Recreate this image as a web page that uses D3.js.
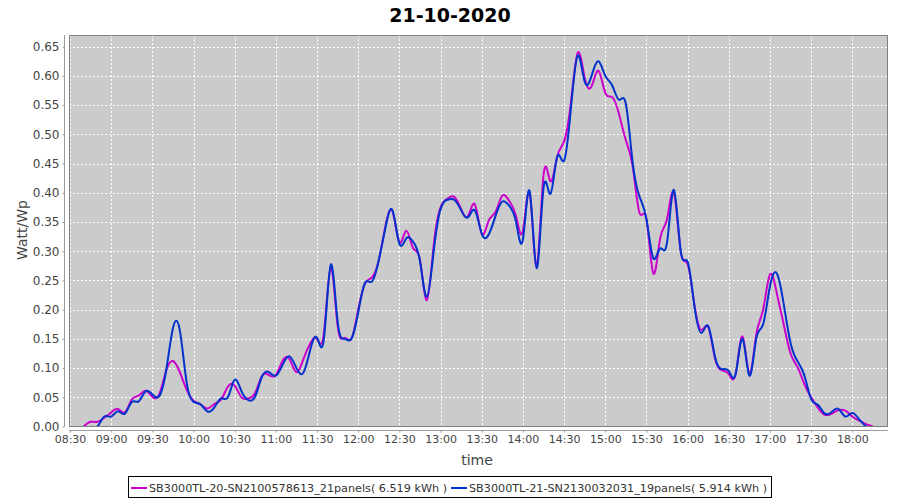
<!DOCTYPE html>
<html>
<head>
<meta charset="utf-8">
<script src="https://cdn.jsdelivr.net/npm/d3@7"></script>
<style>
  body { margin: 0; background: #fff; }
  svg text { font-family: "DejaVu Sans", sans-serif; }
</style>
</head>
<body>
<div id="viz"></div>
<script>
var title = "21-10-2020";

var times = [
  "08:40","08:45","08:50","08:55",
  "09:00","09:05","09:10","09:15","09:20","09:25","09:30","09:35","09:40","09:45","09:50","09:55",
  "10:00","10:05","10:10","10:15","10:20","10:25","10:30","10:35","10:40","10:45","10:50","10:55",
  "11:00","11:05","11:10","11:15","11:20","11:25","11:30","11:35","11:40","11:45","11:50","11:55",
  "12:00","12:05","12:10","12:15","12:20","12:25","12:30","12:35","12:40","12:45","12:50","12:55",
  "13:00","13:05","13:10","13:15","13:20","13:25","13:30","13:35","13:40","13:45","13:50","13:55",
  "14:00","14:05","14:10","14:15","14:20","14:25","14:30","14:35","14:40","14:45","14:50","14:55",
  "15:00","15:05","15:10","15:15","15:20","15:25","15:30","15:35","15:40","15:45","15:50","15:55",
  "16:00","16:05","16:10","16:15","16:20","16:25","16:30","16:35","16:40","16:45","16:50","16:55",
  "17:00","17:05","17:10","17:15","17:20","17:25","17:30","17:35","17:40","17:45","17:50","17:55",
  "18:00","18:05","18:10","18:15"
];

// SB3000TL-20 (magenta)
var sb20 = [
  0.000, 0.008, 0.008, 0.015,
  0.024, 0.030, 0.024, 0.046, 0.053, 0.061, 0.051, 0.055, 0.095, 0.112, 0.093, 0.063,
  0.044, 0.038, 0.031, 0.038, 0.046, 0.068, 0.070, 0.050, 0.048, 0.058, 0.087, 0.088,
  0.088, 0.113, 0.115, 0.093, 0.115, 0.142, 0.150, 0.160, 0.272, 0.172, 0.152, 0.150,
  0.200, 0.245, 0.255, 0.285, 0.345, 0.368, 0.315, 0.335, 0.305, 0.285, 0.216, 0.310,
  0.375, 0.390, 0.393, 0.372, 0.360, 0.380, 0.330, 0.352, 0.367, 0.395, 0.386, 0.360,
  0.335, 0.398, 0.274, 0.430, 0.420, 0.462, 0.488, 0.555, 0.640, 0.597, 0.582, 0.609,
  0.571, 0.564, 0.535, 0.490, 0.445, 0.365, 0.355, 0.262, 0.322, 0.355, 0.400, 0.299,
  0.278, 0.208, 0.165, 0.170, 0.116, 0.096, 0.090, 0.090, 0.154, 0.090, 0.157, 0.200,
  0.260, 0.228, 0.175, 0.125, 0.102, 0.073, 0.050, 0.032, 0.020, 0.022, 0.028, 0.027,
  0.017, 0.010, 0.004, 0.000
];

// SB3000TL-21 (blue)
var sb21 = [
  null, 0.000, 0.000, 0.017,
  0.017, 0.026, 0.022, 0.042, 0.043, 0.060, 0.055, 0.052, 0.095, 0.168, 0.165, 0.075,
  0.042, 0.038, 0.026, 0.032, 0.048, 0.050, 0.080, 0.060, 0.045, 0.052, 0.086, 0.093,
  0.087, 0.106, 0.120, 0.100, 0.092, 0.131, 0.152, 0.150, 0.277, 0.180, 0.150, 0.150,
  0.195, 0.246, 0.248, 0.285, 0.342, 0.370, 0.313, 0.322, 0.316, 0.283, 0.222, 0.300,
  0.372, 0.388, 0.388, 0.370, 0.358, 0.370, 0.330, 0.328, 0.360, 0.385, 0.378, 0.350,
  0.320, 0.402, 0.271, 0.408, 0.398, 0.462, 0.455, 0.545, 0.635, 0.590, 0.600, 0.625,
  0.600, 0.584, 0.559, 0.552, 0.451, 0.393, 0.355, 0.288, 0.305, 0.315, 0.405, 0.300,
  0.282, 0.205, 0.160, 0.172, 0.119, 0.098, 0.095, 0.090, 0.150, 0.087, 0.150, 0.175,
  0.240, 0.262, 0.210, 0.143, 0.112, 0.088, 0.047, 0.037, 0.022, 0.025, 0.030, 0.017,
  0.023, 0.012, 0.000, null
];

var seriesNames = [
  "SB3000TL-20-SN2100578613_21panels( 6.519 kWh )",
  "SB3000TL-21-SN2130032031_19panels( 5.914 kWh )"
];
var seriesColors = ["#cc00cc", "#0033cc"];

var yTicks = [0, 0.05, 0.10, 0.15, 0.20, 0.25, 0.30, 0.35, 0.40, 0.45, 0.50, 0.55, 0.60, 0.65];
var xTickLabels = ["08:30","09:00","09:30","10:00","10:30","11:00","11:30","12:00","12:30","13:00",
                   "13:30","14:00","14:30","15:00","15:30","16:00","16:30","17:00","17:30","18:00"];

var width = 900, height = 500;
var plot = {left: 69, right: 888, top: 35, bottom: 426.5};

var parseTime = d3.timeParse('%H:%M');

var x = d3.scaleTime()
  .domain([parseTime("08:30"), parseTime("18:26")])
  .range([70, plot.right]);

var y = d3.scaleLinear()
  .domain([0, 0.67])
  .range([plot.bottom, plot.top]);

var svg = d3.select('#viz').append('svg')
  .attr('width', width)
  .attr('height', height);

svg.append('rect').attr('width', width).attr('height', height).attr('fill', '#fff');

// title
svg.append('text')
  .attr('x', 450).attr('y', 22)
  .attr('text-anchor', 'middle')
  .attr('font-size', 19).attr('font-weight', 'bold')
  .attr('fill', '#000')
  .text(title);

// plot background
svg.append('rect')
  .attr('x', plot.left).attr('y', plot.top)
  .attr('width', plot.right - plot.left).attr('height', plot.bottom - plot.top)
  .attr('fill', '#cbcbcb');

// grid
var grid = svg.append('g').attr('stroke', '#fff').attr('stroke-width', 1).attr('stroke-dasharray', '2,2');
yTicks.forEach(function(v) {
  grid.append('line')
    .attr('x1', plot.left).attr('x2', plot.right)
    .attr('y1', Math.round(y(v)) + 0.5).attr('y2', Math.round(y(v)) + 0.5);
});
xTickLabels.forEach(function(t) {
  var xp = Math.round(x(parseTime(t))) + 0.5;
  grid.append('line')
    .attr('x1', xp).attr('x2', xp)
    .attr('y1', plot.top).attr('y2', plot.bottom);
});

// lines
svg.append('clipPath').attr('id', 'clip')
  .append('rect')
  .attr('x', plot.left).attr('y', plot.top)
  .attr('width', plot.right - plot.left).attr('height', plot.bottom - plot.top);

var lineGen = d3.line()
  .defined(function(d) { return d.v !== null; })
  .x(function(d) { return x(d.t); })
  .y(function(d) { return y(d.v); })
  .curve(d3.curveNatural);

[sb20, sb21].forEach(function(vals, i) {
  var data = times.map(function(t, j) { return {t: parseTime(t), v: vals[j]}; })
    .filter(function(d) { return d.v !== null; });
  svg.append('path')
    .datum(data)
    .attr('clip-path', 'url(#clip)')
    .attr('fill', 'none')
    .attr('stroke', seriesColors[i])
    .attr('stroke-width', 2)
    .attr('stroke-linejoin', 'round')
    .attr('d', lineGen);
});

// plot border
svg.append('rect')
  .attr('x', plot.left + 0.5).attr('y', plot.top + 0.5)
  .attr('width', plot.right - plot.left - 1).attr('height', plot.bottom - plot.top - 0.5)
  .attr('fill', 'none').attr('stroke', '#808080');

// y axis
var yAxis = svg.append('g')
  .attr('transform', 'translate(64.5,0)')
  .call(d3.axisLeft(y).tickValues(yTicks).tickSize(2).tickPadding(3).tickFormat(d3.format('.2f')));
yAxis.select('.domain').attr('stroke', '#999').attr('d', 'M0,' + plot.top + 'V' + plot.bottom);
yAxis.selectAll('.tick line').attr('stroke', '#999');
yAxis.selectAll('text').attr('font-size', 12).attr('fill', '#444').attr('font-family', 'DejaVu Sans');

// x axis
var xAxis = svg.append('g')
  .attr('transform', 'translate(0,430.5)')
  .call(d3.axisBottom(x)
    .tickValues(xTickLabels.map(parseTime))
    .tickSize(2).tickPadding(3)
    .tickFormat(d3.timeFormat('%H:%M')));
xAxis.select('.domain').attr('stroke', '#999').attr('d', 'M' + plot.left + ',0H' + plot.right);
xAxis.selectAll('.tick line').attr('stroke', '#999');
xAxis.selectAll('text').attr('font-size', 11).attr('fill', '#444').attr('font-family', 'DejaVu Sans');

// axis titles
svg.append('text')
  .attr('transform', 'translate(27,230) rotate(-90)')
  .attr('text-anchor', 'middle')
  .attr('font-size', 14).attr('fill', '#444')
  .text('Watt/Wp');

svg.append('text')
  .attr('x', 477).attr('y', 465)
  .attr('text-anchor', 'middle')
  .attr('font-size', 14).attr('fill', '#444')
  .text('time');

// legend
var legend = svg.append('g');
legend.append('rect')
  .attr('x', 128.5).attr('y', 476.5)
  .attr('width', 643).attr('height', 21)
  .attr('fill', '#fff').attr('stroke', '#000');

var legendX = [131, 451];
seriesNames.forEach(function(name, i) {
  legend.append('line')
    .attr('x1', legendX[i]).attr('x2', legendX[i] + 16)
    .attr('y1', 488).attr('y2', 488)
    .attr('stroke', seriesColors[i]).attr('stroke-width', 2);
  legend.append('text')
    .attr('x', legendX[i] + 18).attr('y', 492)
    .attr('font-size', 11).attr('fill', '#333')
    .attr('textLength', 298).attr('lengthAdjust', 'spacingAndGlyphs')
    .text(name);
});
</script>
</body>
</html>
